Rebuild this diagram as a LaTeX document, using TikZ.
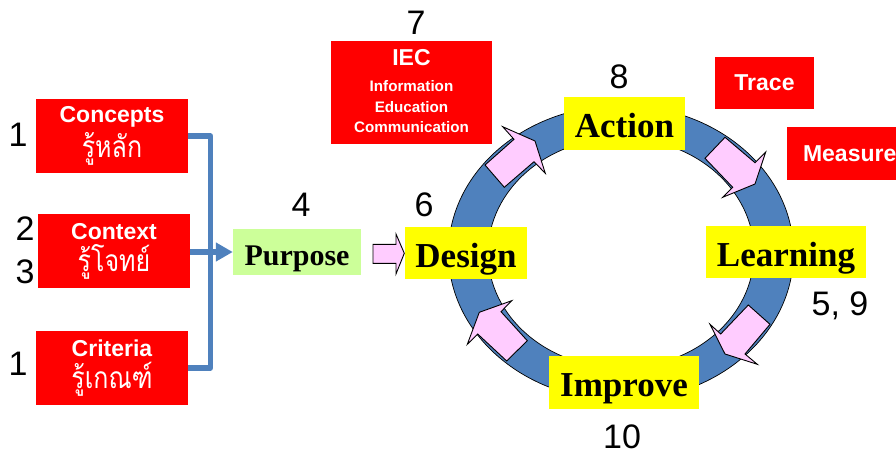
\documentclass[tikz,border=0pt]{standalone}
\usepackage{fontspec}
\setmainfont{Liberation Sans}
\newfontfamily\thaifont[Script=Thai]{Loma}
\newfontfamily\serifbold[Ligatures=TeX]{Liberation Serif}
\usetikzlibrary{arrows.meta}
\definecolor{ringblue}{RGB}{79,129,189}
\definecolor{pinkarrow}{RGB}{255,204,255}
\definecolor{limebox}{RGB}{204,255,153}
\definecolor{pureyellow}{RGB}{255,255,0}
\definecolor{purered}{RGB}{255,0,0}
\tikzset{
  boxsize/.style 2 args={minimum width=#1pt,minimum height=#2pt},
  redbox/.style={fill=purered,text=white,inner sep=0pt,align=center,font=\bfseries\fontsize{23}{25}\selectfont},
  yellowbox/.style={fill=pureyellow,text=black,inner sep=0pt,text height=28pt,text depth=0pt,font=\serifbold\bfseries\fontsize{35}{38}\selectfont},
  numlabel/.style={text=black,inner sep=0pt,font=\fontsize{34}{36}\selectfont},
  pinkblock/.style={fill=pinkarrow,draw=black,line width=0.9pt,line join=miter},
  feed/.style={draw=ringblue,line width=5.5pt,line join=round},
}
\newcommand{\thaitext}[1]{{\thaifont\fontsize{25}{28}\selectfont\mdseries\scalebox{1}[1.2]{#1}}}
\begin{document}
\begin{tikzpicture}[x=1pt,y=-1pt]
\useasboundingbox (0,0) rectangle (896,452);
% ring
\path[fill=ringblue,draw=black,line width=0.7pt,even odd rule]
  (621,253) ellipse [x radius=172.5pt,y radius=147.5pt]
  (621,253) ellipse [x radius=133pt,y radius=115pt];
% block arrows on the ring
\draw[pinkblock] (725,137.3) -- (755,162.7) -- (765.7,152) -- (755,184) -- (722.7,197.3) -- (732.7,187.3) -- (705,158.3) -- cycle;
\draw[pinkblock] (748.3,305) -- (770,324.3) -- (745,354) -- (757.3,364.3) -- (725,354) -- (710,324.3) -- (720.7,334) -- cycle;
\draw[pinkblock] (527.3,340.7) -- (506.7,361) -- (477.7,334) -- (467.3,344.3) -- (479.3,312.3) -- (511.7,300.7) -- (501,311.7) -- cycle;
\draw[pinkblock] (485,165) -- (514,139.3) -- (502.7,126.7) -- (535,141) -- (545.3,173.3) -- (534,161.7) -- (504.3,187.3) -- cycle;
% red boxes
\node[redbox,boxsize={152}{74}] (concepts) at (112,136) {Concepts\\[4pt]\thaitext{รู้หลัก}};
\node[redbox,boxsize={152}{74}] (context) at (114,251) {Context\\[4pt]\thaitext{รู้โจทย์}};
\node[redbox,boxsize={152}{74}] (criteria) at (112,368) {Criteria\\[4pt]\thaitext{รู้เกณฑ์}};
\node[redbox,boxsize={161}{103},font=\bfseries\fontsize{15.2}{20.5}\selectfont] (iec) at (411.5,92.5) {{\fontsize{23}{20.5}\selectfont IEC}\\[5.5pt]
  Information\\Education\\Communication\\[-17.5pt]};
\node[redbox,boxsize={99}{52}] (trace) at (764.5,83) {Trace};
\node[redbox,boxsize={125}{53},anchor=west] (measure) at (787,153.5) {Measure};
% process boxes
\node[fill=limebox,text=black,inner sep=0pt,text height=26pt,text depth=0pt,font=\serifbold\bfseries\fontsize{30}{32}\selectfont,boxsize={128}{46}] (purpose) at (297,252) {Purpose};
\node[yellowbox,boxsize={122}{52}] (design) at (466,253) {Design};
\node[yellowbox,boxsize={121}{53}] (action) at (624.5,123.5) {Action};
\node[yellowbox,boxsize={160}{52}] (learning) at (786,252) {Learning};
\node[yellowbox,boxsize={150}{53}] (improve) at (624,382.5) {Improve};
% connectors
\coordinate (busTop) at (210.5,136);
\coordinate (busBottom) at (210.5,368);
\draw[feed] (concepts.east) -- (busTop) -- (busBottom) -- (criteria.east);
\draw[feed,-{Triangle[length=17pt,width=18pt]}] (context.east |- purpose.west) -- (purpose.west);
% purpose to design
\draw[pinkblock] (373,244.3) -- (396,244.3) -- (396,234) -- (404.3,253.3) -- (396,274) -- (396,263.3) -- (373,263.3) -- cycle;
% numbers
\node[numlabel] (n1a) at (18,135) {1};
\node[numlabel] (n2) at (25,229) {2};
\node[numlabel] (n3) at (25,272) {3};
\node[numlabel] (n1b) at (18,364) {1};
\node[numlabel] (n4) at (301,205) {4};
\node[numlabel] (n6) at (424,205) {6};
\node[numlabel] (n7) at (416,23) {7};
\node[numlabel] (n8) at (619,77) {8};
\node[numlabel] (n59) at (840,306) {5, 9};
\node[numlabel] (n10) at (622,437) {10};
\end{tikzpicture}
\end{document}
